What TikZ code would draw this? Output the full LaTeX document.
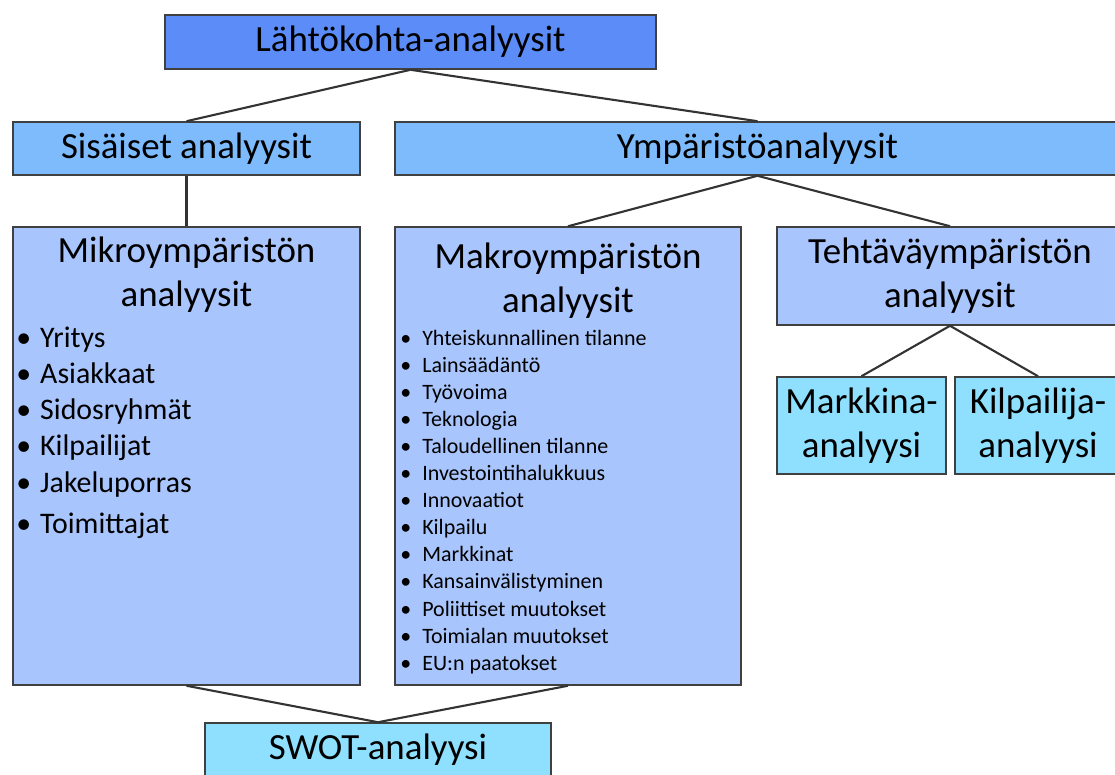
\documentclass[tikz,border=0pt]{standalone}
\usepackage{fontspec}
\setmainfont{Carlito}
\usepackage{xcolor}
\definecolor{lahtofill}{RGB}{91,140,248}
\definecolor{tasofill}{RGB}{125,187,253}
\definecolor{ymparfill}{RGB}{169,197,253}
\definecolor{syanfill}{RGB}{142,224,254}
\definecolor{reuna}{RGB}{64,64,64}

\begin{document}
\begin{tikzpicture}[x=0.02cm, y=-0.02cm,
  laatikko/.style={draw=reuna, line width=0.9pt, inner sep=0pt, align=center,
    font=\fontsize{21}{25}\selectfont},
  otsikko/.style={inner sep=0pt, align=center, font=\fontsize{21}{25}\selectfont},
  mikrokohta/.style={inner sep=0pt, anchor=base west, font=\fontsize{17}{20}\selectfont},
  makrokohta/.style={inner sep=0pt, anchor=base west, font=\fontsize{12.5}{14}\selectfont},
  yhdys/.style={draw=black!80, line width=1.2pt}]
\useasboundingbox (0,0) rectangle (1115,774);
% ylin taso
\node[laatikko, fill=lahtofill, minimum width=9.82cm, minimum height=1.08cm] (lahto) at (410.5,42) {Lähtökohta-analyysit};
\node[laatikko, fill=tasofill, minimum width=6.94cm, minimum height=1.06cm] (sisa) at (186.5,148.5) {Sisäiset analyysit};
\node[laatikko, fill=tasofill, minimum width=14.5cm, minimum height=1.06cm] (ymp) at (757.5,148.5) {Ympäristöanalyysit};
% ympäristöt
\node[laatikko, fill=ymparfill, minimum width=6.94cm, minimum height=9.16cm] (mikro) at (186.5,456) {};
\node[otsikko] (mikrootsikko) at (186.5,275) {Mikroympäristön\\analyysit};
\node[laatikko, fill=ymparfill, minimum width=6.92cm, minimum height=9.16cm] (makro) at (568,456) {};
\node[otsikko] (makrootsikko) at (568,281) {Makroympäristön\\analyysit};
\node[laatikko, fill=ymparfill, minimum width=6.92cm, minimum height=1.96cm] (teht) at (950,276) {Tehtäväympäristön\\analyysit};
% alimmat
\node[laatikko, fill=syanfill, minimum width=3.38cm, minimum height=1.94cm] (markkina) at (861.5,425.5) {Markkina-\\analyysi};
\node[laatikko, fill=syanfill, minimum width=3.32cm, minimum height=1.94cm] (kilp) at (1038,425.5) {Kilpailija-\\analyysi};
\node[laatikko, fill=syanfill, minimum width=6.92cm, minimum height=1.08cm] (swot) at (378,750) {SWOT-analyysi};
% luettelot
\foreach \teksti [count=\i] in {Yritys, Asiakkaat, Sidosryhmät, Kilpailijat, Jakeluporras}
  \node[mikrokohta] (mk\i) at (16,{347+36.3*(\i-1)}) {\makebox[13.6pt][l]{\textbullet}\teksti};
\node[mikrokohta] (mk6) at (16,533) {\makebox[13.6pt][l]{\textbullet}Toimittajat};
\foreach \teksti [count=\i] in {Yhteiskunnallinen tilanne, Lainsäädäntö, Työvoima, Teknologia,
    Taloudellinen tilanne, Investointihalukkuus, Innovaatiot, Kilpailu, Markkinat,
    Kansainvälistyminen, Poliittiset muutokset, Toimialan muutokset, EU:n paatokset}
  \node[makrokohta] (mak\i) at (400,{345+27.1*(\i-1)}) {\makebox[12.5pt][l]{\textbullet}\teksti};
% yhteydet
\draw[yhdys] (lahto.south) -- (sisa.north);
\draw[yhdys] (lahto.south) -- (ymp.north);
\draw[yhdys] (sisa.south) -- (mikro.north);
\draw[yhdys] (ymp.south) -- (makro.north);
\draw[yhdys] (ymp.south) -- (teht.north);
\draw[yhdys] (teht.south) -- (markkina.north);
\draw[yhdys] (teht.south) -- (kilp.north);
\draw[yhdys] (mikro.south) -- (swot.north);
\draw[yhdys] (makro.south) -- (swot.north);
\end{tikzpicture}
\end{document}
